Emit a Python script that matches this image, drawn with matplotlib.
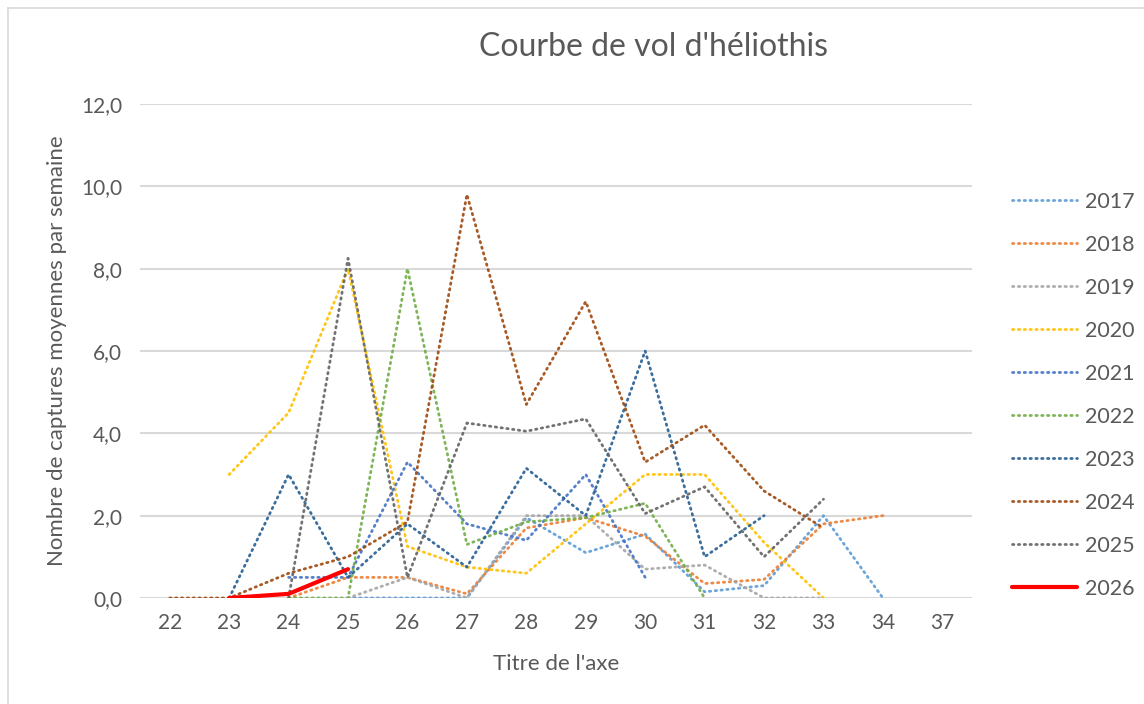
import matplotlib
matplotlib.use("Agg")
import matplotlib.pyplot as plt
from matplotlib.lines import Line2D
import numpy as np

plt.rcParams['font.family'] = ['Lato', 'DejaVu Sans']

# Weeks (categorical axis) and captures per year
weeks = ['22', '23', '24', '25', '26', '27', '28', '29', '30', '31', '32', '33', '34', '37']
n = np.nan
y2017 = [n, n, n, 0, 0, 0, 1.95, 1.1, 1.55, 0.15, 0.3, 2.0, 0, n]
y2018 = [n, n, 0, 0.5, 0.5, 0.1, 1.7, 1.95, 1.5, 0.35, 0.45, 1.8, 2.0, n]
y2019 = [n, n, n, 0, 0.5, 0, 2.0, 2.0, 0.7, 0.8, 0, 0, n, n]
y2020 = [n, 3.0, 4.5, 8.0, 1.25, 0.75, 0.6, 1.8, 3.0, 3.0, 1.35, 0, n, n]
y2021 = [n, n, 0.5, 0.5, 3.3, 1.8, 1.4, 3.0, 0.5, n, n, n, n, n]
y2022 = [n, n, 0, 0, 8.0, 1.3, 1.85, 1.95, 2.3, 0, n, n, n, n]
y2023 = [n, 0, 3.0, 0.5, 1.8, 0.75, 3.15, 2.0, 6.0, 1.0, 2.0, n, n, n]
y2024 = [0, 0, 0.6, 1.0, 1.85, 9.8, 4.7, 7.2, 3.3, 4.2, 2.6, 1.7, n, n]
y2025 = [n, n, 0, 8.25, 0.5, 4.25, 4.05, 4.35, 2.05, 2.7, 1.0, 2.4, n, n]
y2026 = [n, 0, 0.1, 0.7, n, n, n, n, n, n, n, n, n, n]

years = ['2017', '2018', '2019', '2020', '2021', '2022', '2023', '2024', '2025', '2026']
series = [y2017, y2018, y2019, y2020, y2021, y2022, y2023, y2024, y2025, y2026]
colors = ['#5B9BD5', '#ED7D31', '#A5A5A5', '#FFC000', '#4472C4', '#70AD47',
          '#255E91', '#9E480E', '#636363', '#FF0000']

txt = '#595959'
grid = '#D9D9D9'

fig = plt.figure(figsize=(11.44, 7.04), dpi=100)
ax = fig.add_axes([0.1224, 0.1506, 0.7273, 0.7017])

x = np.arange(len(weeks))
for name, vals, col in zip(years, series, colors):
    if name == '2026':
        ax.plot(x, vals, color=col, lw=3, solid_capstyle='round', label=name, zorder=5)
    else:
        ax.plot(x, vals, color=col, lw=2.0, linestyle=(0, (0.5, 1.6)),
                dash_capstyle='round', label=name, alpha=0.9)

ax.set_xlim(-0.5, len(weeks) - 0.5)
ax.set_ylim(0, 12)
ax.set_yticks(np.arange(0, 13, 2))
ax.set_yticklabels([f'{v:.1f}'.replace('.', ',') for v in np.arange(0, 13, 2)])
ax.set_xticks(x)
ax.set_xticklabels(weeks)
ax.tick_params(length=0, labelsize=15, labelcolor=txt)
ax.tick_params(axis='x', pad=11)
ax.tick_params(axis='y', pad=13)
ax.grid(axis='y', color=grid, lw=1.5)
ax.set_axisbelow(True)
for s in ax.spines.values():
    s.set_visible(False)

ax.set_xlabel("Titre de l'axe", fontsize=16, color=txt, labelpad=15)
ax.set_ylabel('Nombre de captures moyennes par semaine', fontsize=16, color=txt, labelpad=10)
fig.text(0.571, 0.933, "Courbe de vol d'héliothis", ha='center', va='center',
         fontsize=23, color=txt)

handles, labels = ax.get_legend_handles_labels()
leg = ax.legend(handles, labels, loc='upper left', bbox_to_anchor=(1.025, 0.862),
                frameon=False, fontsize=15.5, handlelength=3.0, labelspacing=1.07,
                handletextpad=0.4, labelcolor=txt)

# outer chart frame (top/left visible in the capture)
fig.add_artist(Line2D([8 / 1144, 1], [1 - 8 / 704, 1 - 8 / 704], color=grid, lw=1.2))
fig.add_artist(Line2D([8 / 1144, 8 / 1144], [0, 1 - 8 / 704], color=grid, lw=1.2))

fig.savefig('out.png', dpi=100)
